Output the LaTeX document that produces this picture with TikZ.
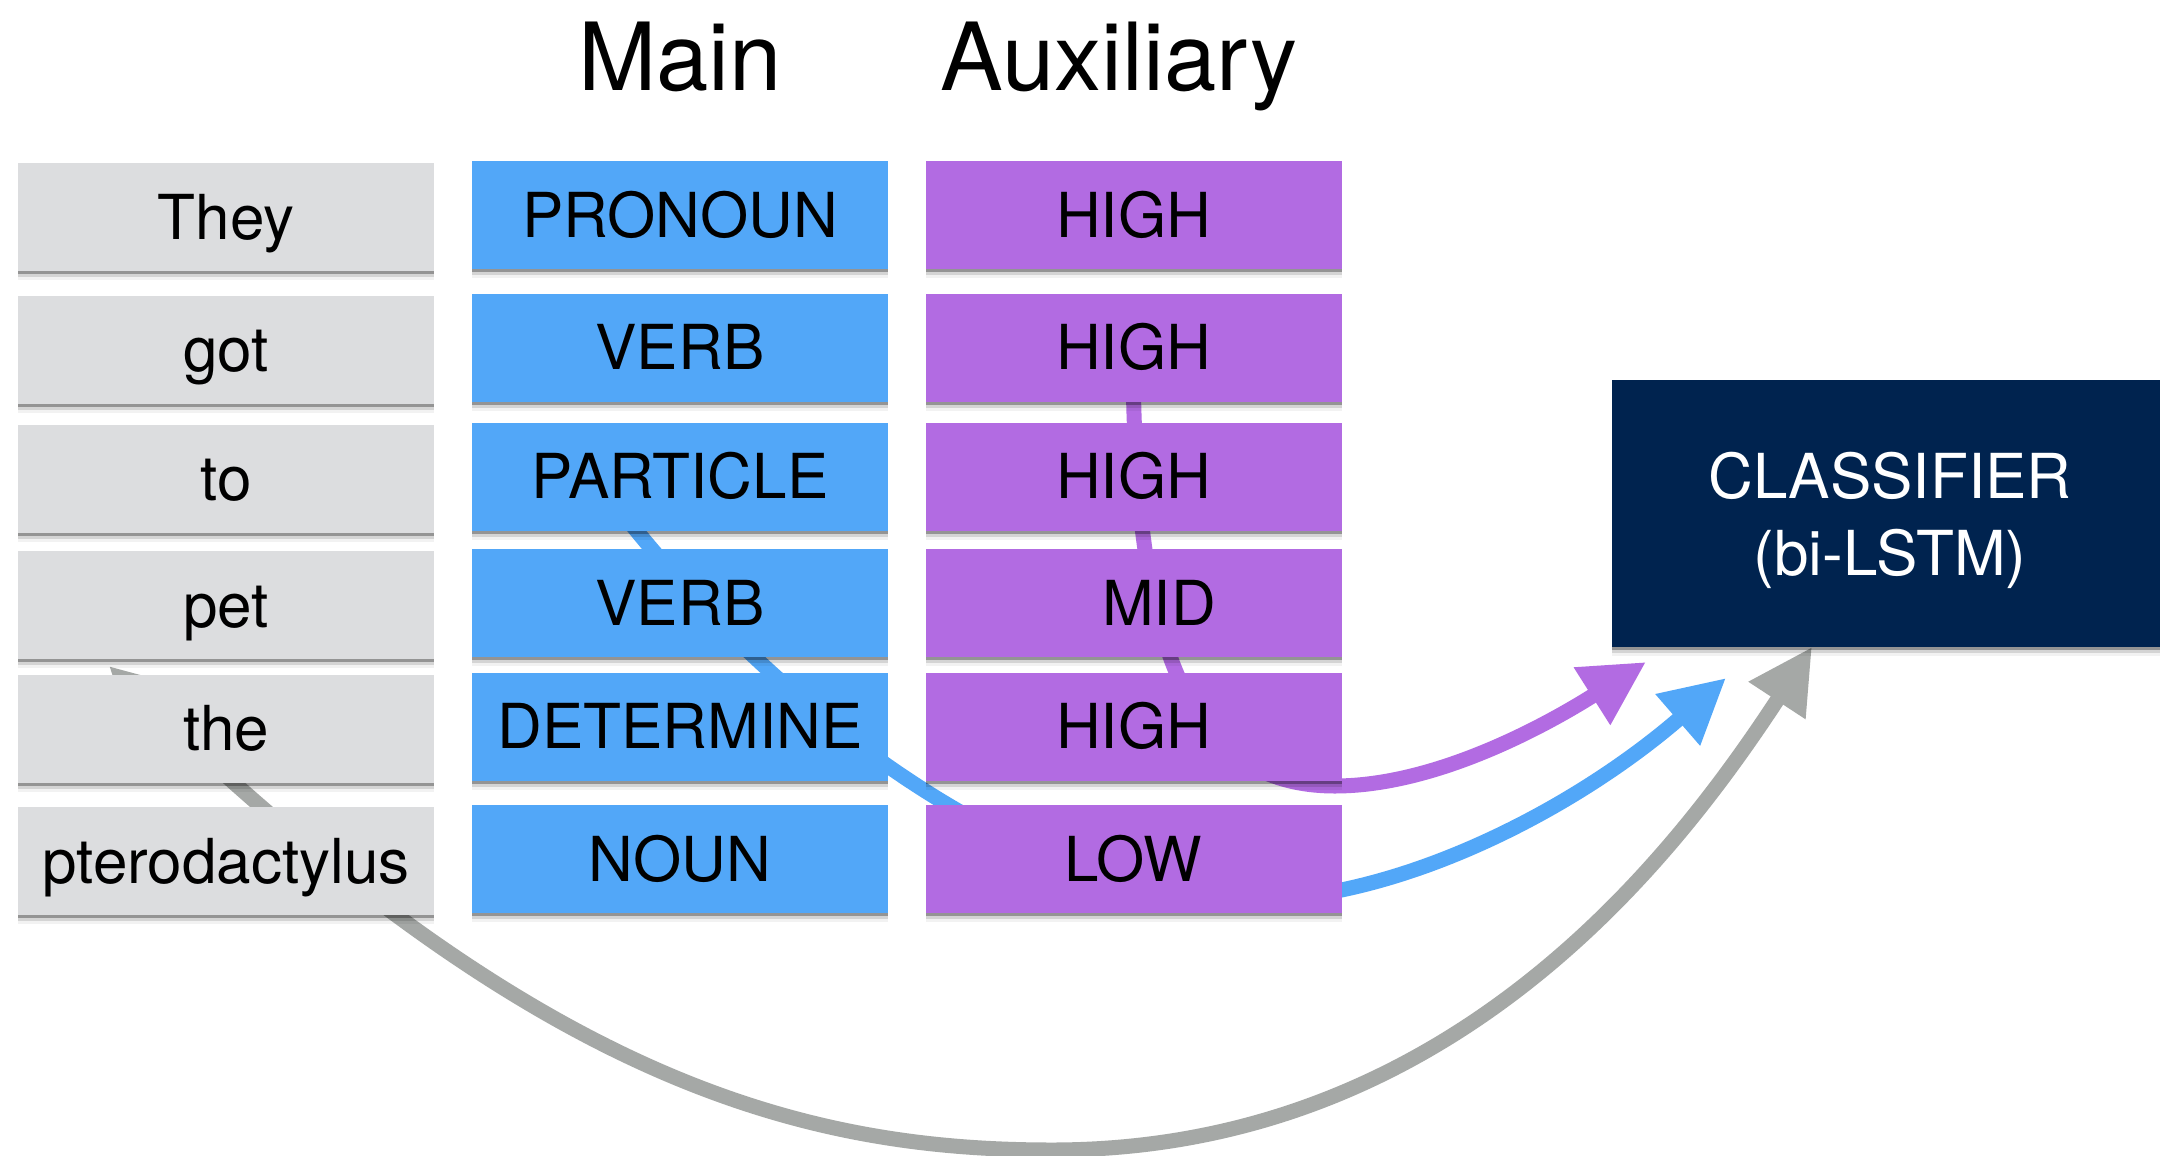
\documentclass[tikz,border=0pt]{standalone}
\usepackage{fontspec}
\setmainfont{TeX Gyre Heros}
\usetikzlibrary{arrows.meta,shadows}
\definecolor{wordgrey}{HTML}{DCDDDF}
\definecolor{mainblue}{HTML}{52A7F8}
\definecolor{auxpurple}{HTML}{B26BE2}
\definecolor{clsnavy}{HTML}{00234F}
\definecolor{linegrey}{HTML}{A5A8A6}
\begin{document}
\begin{tikzpicture}[x=1pt,y=-1pt,
  softshadow/.style={drop shadow={shadow xshift=0pt,shadow yshift=-3pt,opacity=.30,fill=black},
                     drop shadow={shadow xshift=0pt,shadow yshift=-6pt,opacity=.12,fill=black},
                     drop shadow={shadow xshift=0pt,shadow yshift=-9pt,opacity=.05,fill=black}},
  box/.style={rectangle, minimum width=416pt, minimum height=108pt, inner sep=0pt,
              text height=44.5pt, text depth=0pt, font=\fontsize{62}{74}\selectfont, softshadow},
  wordbox/.style={box, fill=wordgrey},
  mainbox/.style={box, fill=mainblue},
  auxbox/.style={box, fill=auxpurple},
  clsbox/.style={rectangle, fill=clsnavy, text=white, minimum width=556pt, minimum height=267pt,
              inner sep=0pt, align=center, text height=124.5pt, text depth=0pt,
              font=\fontsize{62}{77}\selectfont, softshadow},
  coltitle/.style={font=\fontsize{94}{110}\selectfont, anchor=base, inner sep=0pt},
  link/.style={line width=15pt, -{Triangle[length=64pt,width=64pt]}},
]
\useasboundingbox[fill=white] (0,0) rectangle (2160,1156);

% connector end points
\coordinate (gs) at (109,666);
\coordinate (gb) at (1052,1150);
\coordinate (gt) at (1812,647);
\coordinate (bs) at (590,470);
\coordinate (bb) at (1250,900);
\coordinate (bt) at (1726,678);
\coordinate (ps) at (1133,348);
\coordinate (pb) at (1335,786);
\coordinate (pt) at (1646,662);

% connectors (behind the boxes)
\draw[link, linegrey, {Triangle[length=64pt,width=64pt]}-{Triangle[length=64pt,width=64pt]}]
  (gs) .. controls (543,1081) and (802,1150) .. (gb)
       .. controls (1452,1150) and (1675,856) .. (gt);
\draw[link, mainblue]
  (bs) .. controls (735,672.5) and (1000,900) .. (bb)
       .. controls (1400,900) and (1575,809) .. (bt);
\draw[link, auxpurple]
  (ps) .. controls (1133,650) and (1190,786) .. (pb)
       .. controls (1435,786) and (1545,726) .. (pt);

% titles
\node[coltitle] (tmain) at (680,90) {Main};
\node[coltitle] (taux) at (1119,90) {Auxiliary};

% words
\node[wordbox] (w1) at (226,217) {They};
\node[wordbox] (w2) at (226,349.5) {got};
\node[wordbox] (w3) at (226,478.5) {to};
\node[wordbox] (w4) at (226,605) {pet};
\node[wordbox] (w5) at (226,728.5) {the};
\node[wordbox] (w6) at (226,861) {pterodactylus};

% main labels
\node[mainbox] (m1) at (680,215) {PRONOUN};
\node[mainbox] (m2) at (680,347.5) {VERB};
\node[mainbox] (m3) at (680,476.5) {PARTICLE};
\node[mainbox] (m4) at (680,603) {VERB};
\node[mainbox] (m5) at (680,726.5) {DETERMINE};
\node[mainbox] (m6) at (680,859) {NOUN};

% auxiliary labels
\node[auxbox] (a1) at (1133.5,215) {HIGH};
\node[auxbox] (a2) at (1133.5,347.5) {HIGH};
\node[auxbox] (a3) at (1133.5,476.5) {HIGH};
\node[auxbox] (a4) at (1133.5,603) {\hspace*{51pt}MID};
\node[auxbox] (a5) at (1133.5,726.5) {HIGH};
\node[auxbox] (a6) at (1133.5,859) {LOW};

% classifier
\node[clsbox] (cls) at (1890,513.5) {CLASSIFIER\\(bi-LSTM)};
\end{tikzpicture}
\end{document}
